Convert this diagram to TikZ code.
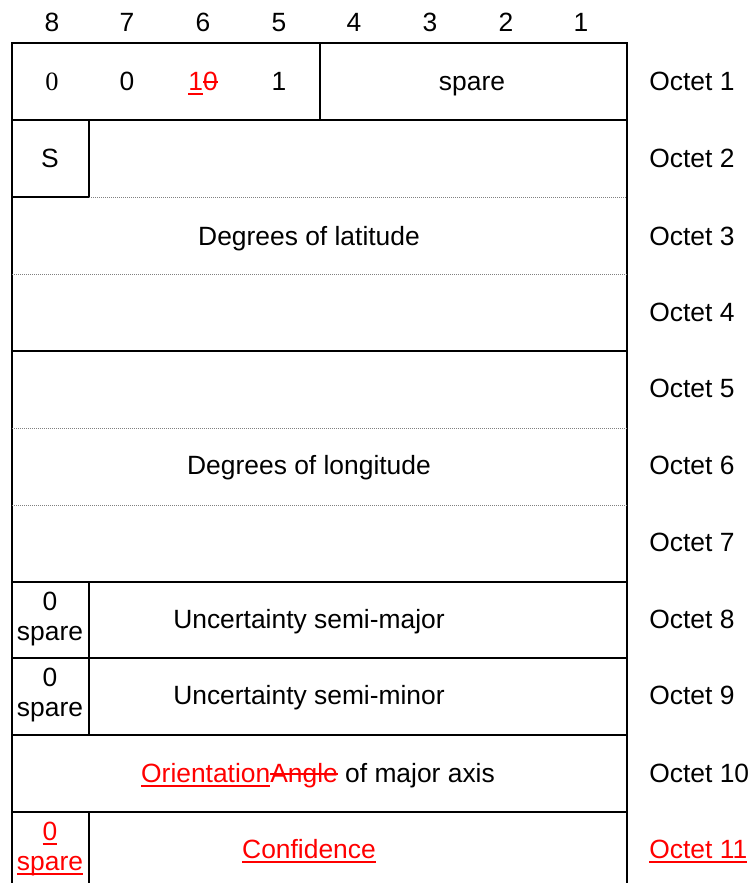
\documentclass[tikz,border=0pt]{standalone}
\usepackage{fontspec}
\setmainfont{Liberation Sans}
\newfontfamily\serifzero{Liberation Serif}
\newsavebox\mkbox
\newcommand\myul[1]{\sbox\mkbox{#1}\rlap{\vrule height -1.4pt depth 2.3pt width \wd\mkbox}\usebox\mkbox}
\newcommand\myst[1]{\sbox\mkbox{#1}\rlap{\vrule height 4.6pt depth -3.7pt width \wd\mkbox}\usebox\mkbox}
\begin{document}
\begin{tikzpicture}[x=0.5pt,y=-0.5pt,
  txt/.style={font=\fontsize{13.2}{15}\selectfont, inner sep=0pt, text height=9.5pt, text depth=0pt},
  txt2/.style={font=\fontsize{13.2}{15}\selectfont, inner sep=0pt, align=center},
  frame/.style={line width=1.1pt, line cap=rect},
  dotline/.style={gray, line width=0.5pt, dash pattern=on 0.5pt off 0.5pt}]
\useasboundingbox (0,0) rectangle (750,883);
% bit numbers
\foreach \i/\x in {8/52,7/127,6/203,5/279,4/354,3/430,2/506,1/581}
  \node[txt] (b\i) at (\x,22) {\i};
% octet labels
\foreach \i/\y in {1/81,2/158,3/236,4/312,5/388,6/465,7/542,8/619,9/695,10/773}
  \node[txt,anchor=west] (o\i) at (649,\y) {Octet \i};
\node[txt,anchor=west] (o11) at (649,849) {\color{red}\myul{Octet 11}};
% frame lines
\draw[frame] (12,883) -- (12,43) -- (627,43) -- (627,883);
\draw[frame] (12,120) -- (627,120);
\draw[frame] (320,43) -- (320,120);
\draw[frame] (89,120) -- (89,197) -- (12,197);
\draw[dotline] (89,197) -- (627,197);
\draw[dotline] (12,274) -- (627,274);
\draw[frame] (12,351) -- (627,351);
\draw[dotline] (12,428) -- (627,428);
\draw[dotline] (12,505) -- (627,505);
\foreach \y in {582,658,735,812}
  \draw[frame] (12,\y) -- (627,\y);
\draw[frame] (89,582) -- (89,735);
\draw[frame] (89,812) -- (89,883);
% octet 1
\node[txt] (c8) at (52,81) {\serifzero 0};
\node[txt] (c7) at (127,81) {0};
\node[txt] (c6) at (203,81) {\color{red}\myul{1}\myst{0}};
\node[txt] (c5) at (279,81) {1};
\node[txt] (spare1) at (472,81) {spare};
% octet 2
\node[txt] (s) at (50,158) {S};
\node[txt] (lat) at (309,236) {Degrees of latitude};
\node[txt] (lon) at (309,465) {Degrees of longitude};
% octet 8, 9
\node[txt2] (sp8) at (50,619) {0\\spare};
\node[txt] (maj) at (309,619) {Uncertainty semi-major};
\node[txt2] (sp9) at (50,695) {0\\spare};
\node[txt] (min) at (309,695) {Uncertainty semi-minor};
% octet 10
\node[txt] (orient) at (318,773) {{\color{red}\myul{Orientation}\myst{Angle}} of major axis};
% octet 11
\node[txt2,text=red] (sp11) at (50,849) {\myul{0}\\\myul{spare}};
\node[txt] (conf) at (309,849) {\color{red}\myul{Confidence}};
\end{tikzpicture}
\end{document}
